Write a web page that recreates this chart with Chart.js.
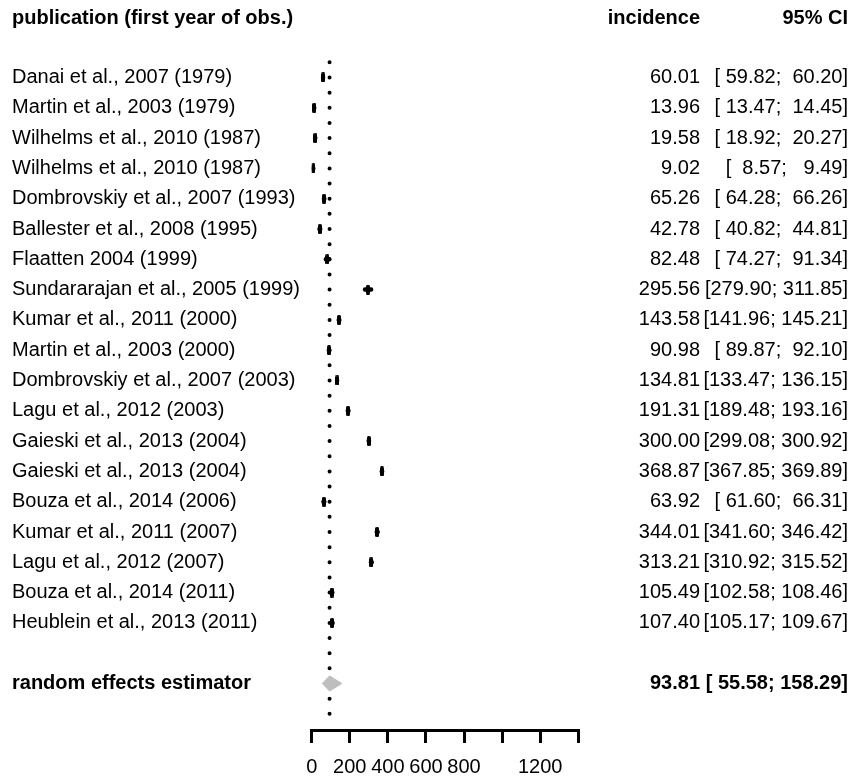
<!DOCTYPE html>
<html>
<head>
<meta charset="utf-8">
<script src="https://cdn.jsdelivr.net/npm/chart.js@4.4.1/dist/chart.umd.min.js"></script>
<style>
    html, body { margin: 0; padding: 0; background: #fff; }
    #wrap { position: relative; width: 860px; height: 777px; }
</style>
</head>
<body>
<div id="wrap"><canvas id="forestChart"></canvas></div>
<script>
// studies, top to bottom
const studies = [
    'Danai et al., 2007 (1979)',
    'Martin et al., 2003 (1979)',
    'Wilhelms et al., 2010 (1987)',
    'Wilhelms et al., 2010 (1987)',
    'Dombrovskiy et al., 2007 (1993)',
    'Ballester et al., 2008 (1995)',
    'Flaatten 2004 (1999)',
    'Sundararajan et al., 2005 (1999)',
    'Kumar et al., 2011 (2000)',
    'Martin et al., 2003 (2000)',
    'Dombrovskiy et al., 2007 (2003)',
    'Lagu et al., 2012 (2003)',
    'Gaieski et al., 2013 (2004)',
    'Gaieski et al., 2013 (2004)',
    'Bouza et al., 2014 (2006)',
    'Kumar et al., 2011 (2007)',
    'Lagu et al., 2012 (2007)',
    'Bouza et al., 2014 (2011)',
    'Heublein et al., 2013 (2011)'
];
const incidence = [60.01, 13.96, 19.58, 9.02, 65.26, 42.78, 82.48, 295.56, 143.58, 90.98,
    134.81, 191.31, 300.00, 368.87, 63.92, 344.01, 313.21, 105.49, 107.40];
const ciLower = [59.82, 13.47, 18.92, 8.57, 64.28, 40.82, 74.27, 279.90, 141.96, 89.87,
    133.47, 189.48, 299.08, 367.85, 61.60, 341.60, 310.92, 102.58, 105.17];
const ciUpper = [60.20, 14.45, 20.27, 9.49, 66.26, 44.81, 91.34, 311.85, 145.21, 92.10,
    136.15, 193.16, 300.92, 369.89, 66.31, 346.42, 315.52, 108.46, 109.67];

const pooledLabel = 'random effects estimator';
const pooledEstimate = 93.81;
const pooledLower = 55.58;
const pooledUpper = 158.29;

const headerLabels = ['publication (first year of obs.)', 'incidence', '95% CI'];
const xTicks = [0, 200, 400, 600, 800, 1000, 1200, 1400];
const xTickLabels = ['0', '200', '400', '600', '800', '', '1200', ''];

// row layout (in y units of the chart)
const headerRow = -1.95;
const pooledRow = studies.length + 1;

const FONT = '"Liberation Sans", Arial, Helvetica, sans-serif';

function fmt(v) {
    return v.toFixed(2);
}

function fmtCI(lo, hi) {
    return '[' + fmt(lo).padStart(6, ' ') + '; ' + fmt(hi).padStart(6, ' ') + ']';
}

// small black bar used as the study marker
function makeBox(w, h) {
    const c = document.createElement('canvas');
    c.width = w;
    c.height = h;
    const g = c.getContext('2d');
    g.fillStyle = '#000';
    g.beginPath();
    g.roundRect(0, 0, w, h, 1.5);
    g.fill();
    return c;
}

const markerPoints = studies.map((s, i) => ({ x: incidence[i], y: i }));

const ciSegments = [];
studies.forEach((s, i) => {
    ciSegments.push({ x: ciLower[i], y: i }, { x: ciUpper[i], y: i }, { x: null, y: null });
});

const diamondPoints = [
    { x: pooledLower, y: pooledRow },
    { x: pooledEstimate, y: pooledRow - 0.25 },
    { x: pooledUpper, y: pooledRow },
    { x: pooledEstimate, y: pooledRow + 0.25 },
    { x: pooledLower, y: pooledRow }
];

const refLine = [
    { x: pooledEstimate, y: -0.5 },
    { x: pooledEstimate, y: pooledRow + 1.1 }
];

// text columns drawn next to the plot
const textColumns = {
    id: 'textColumns',
    afterDraw(chart) {
        const ctx = chart.ctx;
        const yScale = chart.scales.y;
        const rowY = v => yScale.getPixelForValue(v);
        ctx.save();
        ctx.fillStyle = '#000';
        ctx.textBaseline = 'middle';

        ctx.font = 'bold 20px ' + FONT;
        ctx.textAlign = 'left';
        ctx.fillText(headerLabels[0], 12, rowY(headerRow));
        ctx.textAlign = 'right';
        ctx.fillText(headerLabels[1], 700, rowY(headerRow));
        ctx.fillText(headerLabels[2], 848, rowY(headerRow));

        ctx.font = '20px ' + FONT;
        studies.forEach((name, i) => {
            ctx.textAlign = 'left';
            ctx.fillText(name, 12, rowY(i));
            ctx.textAlign = 'right';
            ctx.fillText(fmt(incidence[i]), 700, rowY(i));
            ctx.fillText(fmtCI(ciLower[i], ciUpper[i]), 848, rowY(i));
        });

        ctx.font = 'bold 20px ' + FONT;
        ctx.textAlign = 'left';
        ctx.fillText(pooledLabel, 12, rowY(pooledRow));
        ctx.textAlign = 'right';
        ctx.fillText(fmt(pooledEstimate), 700, rowY(pooledRow));
        ctx.fillText(fmtCI(pooledLower, pooledUpper), 848, rowY(pooledRow));
        ctx.restore();
    }
};

const ctx = document.getElementById('forestChart').getContext('2d');
new Chart(ctx, {
    type: 'line',
    data: {
        datasets: [{
            label: 'estimate',
            data: markerPoints,
            showLine: false,
            pointStyle: makeBox(4, 10),
            pointRadius: 5,
            pointHoverRadius: 5
        }, {
            label: 'ci',
            data: ciSegments,
            borderColor: '#000',
            borderWidth: 4.5,
            borderCapStyle: 'round',
            pointRadius: 0,
            spanGaps: false
        }, {
            label: 'pooled',
            data: diamondPoints,
            borderColor: '#bebebe',
            backgroundColor: '#bebebe',
            borderWidth: 1,
            fill: 'shape',
            pointRadius: 0,
            tension: 0
        }, {
            label: 'reference',
            data: refLine,
            borderColor: '#000',
            borderWidth: 4,
            borderCapStyle: 'round',
            borderDash: [0, 15.15],
            pointRadius: 0
        }]
    },
    options: {
        responsive: true,
        maintainAspectRatio: false,
        animation: false,
        events: [],
        layout: {
            padding: { left: 311.7, right: 281.7, top: 16.9, bottom: 0 }
        },
        plugins: {
            legend: { display: false },
            tooltip: { enabled: false }
        },
        scales: {
            x: {
                type: 'linear',
                position: 'bottom',
                min: 0,
                max: 1400,
                afterBuildTicks: scale => {
                    scale.ticks = xTicks.map(v => ({ value: v }));
                },
                afterFit: scale => {
                    scale.height = 47;
                },
                ticks: {
                    autoSkip: false,
                    maxRotation: 0,
                    padding: 12,
                    color: '#000',
                    font: { family: FONT, size: 20 },
                    callback: (value, index) => xTickLabels[index]
                },
                grid: {
                    drawOnChartArea: false,
                    drawTicks: true,
                    tickLength: 13,
                    lineWidth: 3,
                    color: '#000'
                },
                border: { display: true, width: 3, color: '#000' }
            },
            y: {
                type: 'linear',
                display: false,
                reverse: true,
                min: -2,
                max: 21.535
            }
        }
    },
    plugins: [textColumns]
});
</script>
</body>
</html>
